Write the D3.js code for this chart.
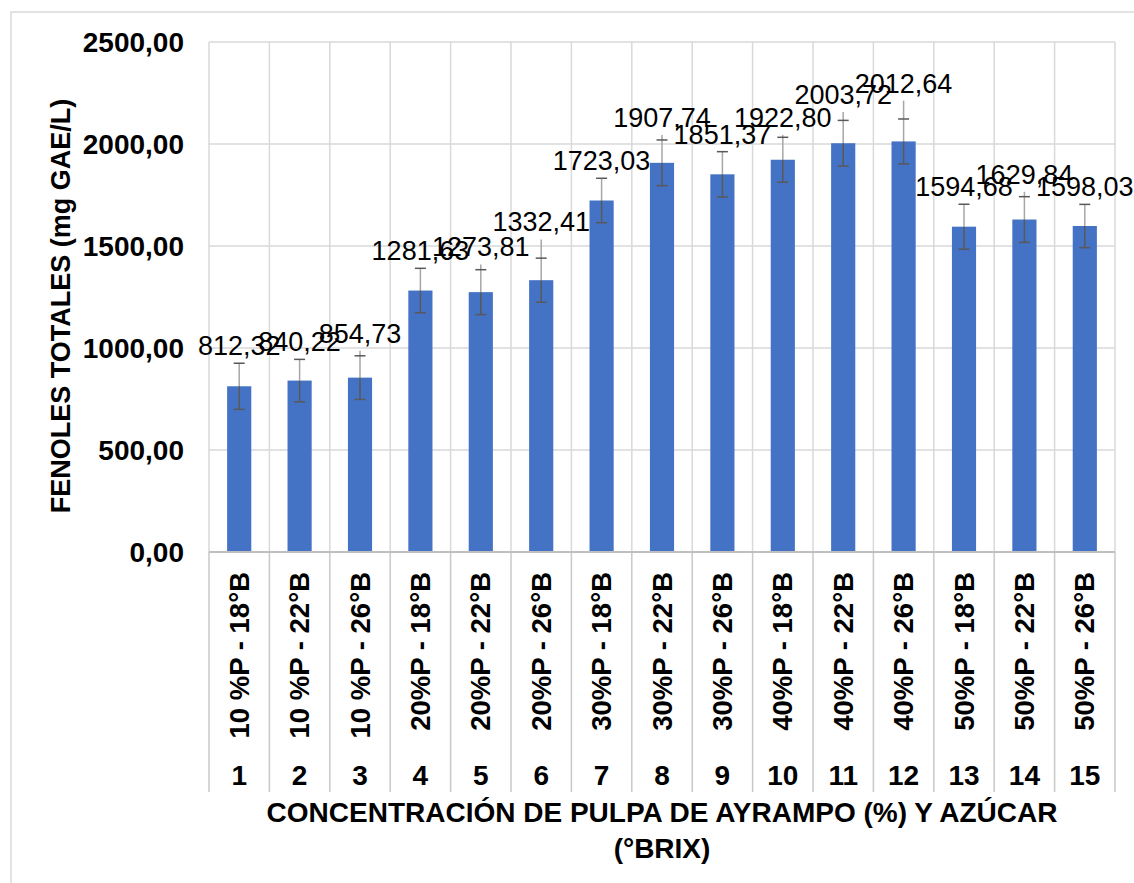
<!DOCTYPE html>
<html lang="es">
<head>
  <meta charset="UTF-8">
  <title>Fenoles totales</title>
  <script src="https://cdn.jsdelivr.net/npm/d3@7"></script>
  <style>
    body { margin:0; background:#fff; }
    svg { display:block; font-family:"Liberation Sans", Arial, sans-serif; }
    .bold { font-weight:bold; fill:#000; }
  </style>
</head>
<body>
  <svg id="chart" width="1134" height="883"></svg>

  <script>
  // datos
  const treatments = ["1","2","3","4","5","6","7","8","9","10","11","12","13","14","15"];
  const conditions = ["10 %P - 18°B","10 %P - 22°B","10 %P - 26°B",
                      "20%P - 18°B","20%P - 22°B","20%P - 26°B",
                      "30%P - 18°B","30%P - 22°B","30%P - 26°B",
                      "40%P - 18°B","40%P - 22°B","40%P - 26°B",
                      "50%P - 18°B","50%P - 22°B","50%P - 26°B"];
  const phenols = [812.32, 840.22, 854.73, 1281.63, 1273.81, 1332.41, 1723.03, 1907.74,
                   1851.37, 1922.80, 2003.72, 2012.64, 1594.68, 1629.84, 1598.03];
  // barra de error (±) y extremo superior de la línea de error
  const errBar = [113, 104, 107, 109, 110, 108, 109, 112, 111, 110, 112, 110, 110, 112, 106];
  const errTop = [113, 104, 132, 109, 136, 200, 109, 136, 111, 121, 153, 200, 110, 136, 106];
  const yTicks = [0, 500, 1000, 1500, 2000, 2500];

  (function(){
    const plotL = 209, plotR = 1115, plotT = 42, plotB = 552;

    const svg = d3.select("#chart");
    const fmt = v => d3.format(".2f")(v).replace(".", ",");

    // borde del área del gráfico
    svg.append("rect")
      .attr("x", 11).attr("y", 12)
      .attr("width", 1300).attr("height", 1000)
      .attr("fill", "none")
      .attr("stroke", "#d9d9d9")
      .attr("stroke-width", 1.5);

    const x = d3.scaleBand()
      .domain(d3.range(phenols.length))
      .range([plotL, plotR])
      .paddingInner(0.6)
      .paddingOuter(0.3);

    const y = d3.scaleLinear()
      .domain([0, 2500])
      .range([plotB, plotT]);

    const step = x.step();
    const edge = i => plotL + i * step;

    // líneas de división horizontales
    svg.append("g").selectAll("line")
      .data(yTicks.slice(1))
      .join("line")
        .attr("x1", plotL).attr("x2", plotR)
        .attr("y1", d => y(d)).attr("y2", d => y(d))
        .attr("stroke", "#d9d9d9").attr("stroke-width", 1.5);

    // líneas verticales (cuadrícula y marcas de categoría)
    const edges = d3.range(phenols.length + 1);
    svg.append("g").selectAll("line")
      .data(edges)
      .join("line")
        .attr("x1", d => edge(d)).attr("x2", d => edge(d))
        .attr("y1", plotT).attr("y2", plotB)
        .attr("stroke", "#d9d9d9").attr("stroke-width", 1.5);

    svg.append("g").selectAll("line")
      .data(edges)
      .join("line")
        .attr("x1", d => edge(d)).attr("x2", d => edge(d))
        .attr("y1", plotB).attr("y2", 792)
        .attr("stroke", "#c8c8c8").attr("stroke-width", 1.5);

    // barras
    svg.append("g").selectAll("rect")
      .data(phenols)
      .join("rect")
        .attr("x", (d, i) => x(i))
        .attr("width", x.bandwidth())
        .attr("y", d => y(d))
        .attr("height", d => y(0) - y(d))
        .attr("fill", "#4472c4");

    // eje x
    svg.append("line")
      .attr("x1", plotL).attr("x2", plotR)
      .attr("y1", plotB).attr("y2", plotB)
      .attr("stroke", "#bfbfbf").attr("stroke-width", 2);

    // barras de error
    const eg = svg.append("g");
    phenols.forEach((v, i) => {
      const cx = x(i) + x.bandwidth() / 2;
      const yTop = y(v + errTop[i]), yHi = y(v + errBar[i]), yLo = y(v - errBar[i]);
      eg.append("line")
        .attr("x1", cx).attr("x2", cx)
        .attr("y1", Math.min(yTop, yHi)).attr("y2", y(v))
        .attr("stroke", "#a6a6a6").attr("stroke-width", 1.5);
      eg.append("line")
        .attr("x1", cx).attr("x2", cx)
        .attr("y1", y(v)).attr("y2", yLo)
        .attr("stroke", "#595959").attr("stroke-width", 1.5);
      [yHi, yLo].forEach(yy => {
        eg.append("line")
          .attr("x1", cx - 5.5).attr("x2", cx + 5.5)
          .attr("y1", yy).attr("y2", yy)
          .attr("stroke", "#595959").attr("stroke-width", 1.5);
      });
    });

    // etiquetas de datos
    svg.append("g").selectAll("text")
      .data(phenols)
      .join("text")
        .attr("x", (d, i) => x(i) + x.bandwidth() / 2)
        .attr("y", (d, i) => y(d + errTop[i]) - 8)
        .attr("text-anchor", "middle")
        .attr("font-size", 27)
        .attr("fill", "#000")
        .text(d => fmt(d));

    // etiquetas eje y
    svg.append("g").selectAll("text")
      .data(yTicks)
      .join("text")
        .attr("class", "bold")
        .attr("x", 184)
        .attr("y", d => y(d))
        .attr("dy", "0.35em")
        .attr("text-anchor", "end")
        .attr("font-size", 28)
        .text(d => fmt(d));

    // etiquetas de tratamiento (rotadas)
    svg.append("g").selectAll("text")
      .data(conditions)
      .join("text")
        .attr("class", "bold")
        .attr("transform", (d, i) => `translate(${x(i) + x.bandwidth() / 2},572) rotate(-90)`)
        .attr("dy", "0.35em")
        .attr("text-anchor", "end")
        .attr("font-size", 27.5)
        .text(d => d);

    svg.append("g").selectAll("text")
      .data(treatments)
      .join("text")
        .attr("class", "bold")
        .attr("x", (d, i) => x(i) + x.bandwidth() / 2)
        .attr("y", 785)
        .attr("text-anchor", "middle")
        .attr("font-size", 28)
        .text(d => d);

    // títulos de ejes
    svg.append("text")
      .attr("class", "bold")
      .attr("transform", "translate(61,306) rotate(-90)")
      .attr("dy", "0.35em")
      .attr("text-anchor", "middle")
      .attr("font-size", 27)
      .text("FENOLES TOTALES (mg GAE/L)");

    const xt = svg.append("text")
      .attr("class", "bold")
      .attr("text-anchor", "middle")
      .attr("font-size", 28);
    xt.append("tspan").attr("x", (plotL + plotR) / 2).attr("y", 822)
      .text("CONCENTRACIÓN DE PULPA DE AYRAMPO (%) Y AZÚCAR");
    xt.append("tspan").attr("x", (plotL + plotR) / 2).attr("y", 858)
      .text("(°BRIX)");
  })();
  </script>
</body>
</html>
